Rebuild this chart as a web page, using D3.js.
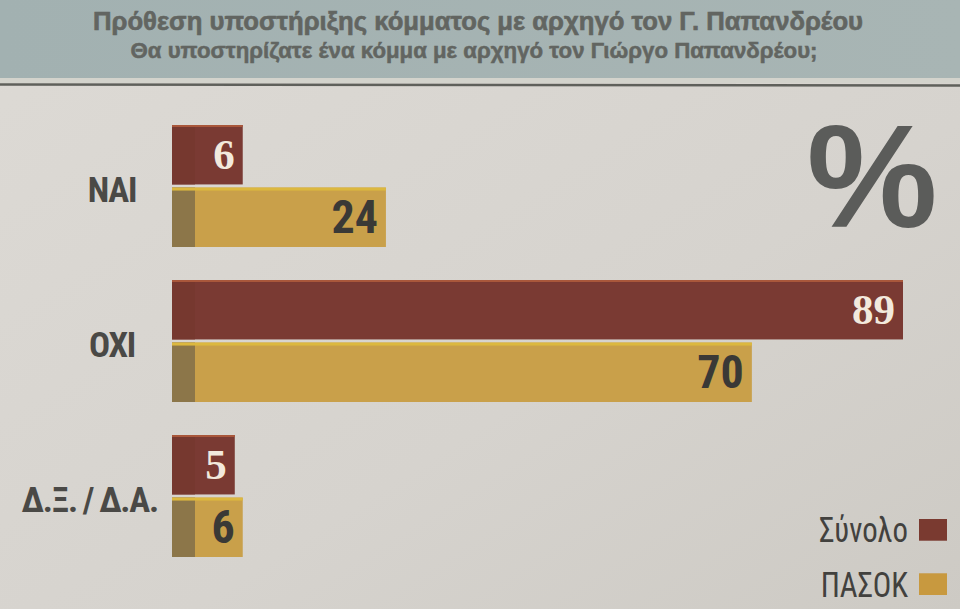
<!DOCTYPE html>
<html>
<head>
<meta charset="utf-8">
<script src="https://cdn.jsdelivr.net/npm/d3@7"></script>
<style>
  html, body { margin: 0; padding: 0; background: #d7d4cf; }
  svg { display: block; }
</style>
</head>
<body>
<svg id="chart" width="960" height="609"></svg>
<script>
// ---- data ----
const categories = ["ΝΑΙ", "ΟΧΙ", "Δ.Ξ. / Δ.Α."];
const series = ["Σύνολο", "ΠΑΣΟΚ"];
const totalValues = [6, 89, 5];
const pasokValues = [24, 70, 6];
const titleText = "Πρόθεση υποστήριξης κόμματος με αρχηγό τον Γ. Παπανδρέου";
const subtitleText = "Θα υποστηρίζατε ένα κόμμα με αρχηγό τον Γιώργο Παπανδρέου;";
const unitText = "%";

// ---- styles ----
const W = 960, H = 609;
const narrow = "'Liberation Sans Narrow', 'Arial Narrow', 'Roboto Condensed', sans-serif";
const sans = "'Liberation Sans', Arial, sans-serif";
const serif = "'Liberation Serif', 'DejaVu Serif', serif";
const colors = {
  "Σύνολο": { main: "#7a3a33", top: "#a9573b", side: "#76382f", text: "#f2e9dd", font: serif, size: 43 },
  "ΠΑΣΟΚ": { main: "#c9a04a", top: "#dcb83f", side: "#8c7649", text: "#3a3936", font: narrow, size: 46 }
};

const valuesBySeries = { "Σύνολο": totalValues, "ΠΑΣΟΚ": pasokValues };
const rows = categories.map((c, i) => ({
  cat: c,
  items: series.map(s => ({ series: s, value: valuesBySeries[s][i] }))
}));

const svg = d3.select("#chart");

// background with slight photographic shading
const defs = svg.append("defs");
const bg = defs.append("linearGradient").attr("id", "bg")
  .attr("x1", "0").attr("y1", "0").attr("x2", "1").attr("y2", "1");
bg.append("stop").attr("offset", "0").attr("stop-color", "#dddad5");
bg.append("stop").attr("offset", "0.6").attr("stop-color", "#d6d3ce");
bg.append("stop").attr("offset", "1").attr("stop-color", "#cdcac4");
svg.append("rect").attr("width", W).attr("height", H).attr("fill", "url(#bg)");

// title band
const band = defs.append("linearGradient").attr("id", "band")
  .attr("x1", "0").attr("y1", "0").attr("x2", "1").attr("y2", "0");
band.append("stop").attr("offset", "0").attr("stop-color", "#a2b1b1");
band.append("stop").attr("offset", "1").attr("stop-color", "#a8b5b4");
svg.append("rect").attr("x", 0).attr("y", 0).attr("width", W).attr("height", 78).attr("fill", "url(#band)");
svg.append("rect").attr("x", 0).attr("y", 78).attr("width", W).attr("height", 5).attr("fill", "#d3d3cc");
svg.append("line").attr("x1", 0).attr("x2", W).attr("y1", 84.5).attr("y2", 85.5)
  .attr("stroke", "#5f605b").attr("stroke-width", 2.5);

svg.append("text").attr("x", 478).attr("y", 30).attr("text-anchor", "middle")
  .attr("font-family", sans).attr("font-weight", "bold").attr("font-size", 25)
  .attr("textLength", 770).attr("lengthAdjust", "spacingAndGlyphs")
  .attr("stroke", "#626561").attr("stroke-width", 0.6)
  .attr("fill", "#626561").text(titleText);
svg.append("text").attr("x", 474).attr("y", 58).attr("text-anchor", "middle")
  .attr("font-family", sans).attr("font-weight", "bold").attr("font-size", 21.5)
  .attr("textLength", 687).attr("lengthAdjust", "spacingAndGlyphs")
  .attr("stroke", "#626561").attr("stroke-width", 0.5)
  .attr("fill", "#626561").text(subtitleText);

// percent sign
svg.append("text").attr("x", 872).attr("y", 227).attr("text-anchor", "middle")
  .attr("font-family", sans).attr("font-weight", "bold")
  .attr("font-size", 147).attr("fill", "#5b5c5a").text(unitText);

// ---- scales ----
const x = d3.scaleLinear().domain([0, 89]).range([195, 903]);
const side = 23;
const y0 = d3.scaleBand().domain(categories).range([125, 557]).paddingInner(0.213).paddingOuter(0);
const y1 = d3.scaleBand().domain(series).range([0, y0.bandwidth()]).paddingInner(0.05);

const groups = svg.selectAll("g.group").data(rows).join("g")
  .attr("class", "group")
  .attr("transform", d => `translate(0,${y0(d.cat)})`);

const bars = groups.selectAll("g.bar").data(d => d.items).join("g")
  .attr("class", "bar")
  .attr("transform", d => `translate(0,${y1(d.series)})`);

const h = y1.bandwidth();
bars.append("rect")
  .attr("x", x(0) - side)
  .attr("y", 0)
  .attr("width", d => x(d.value) - x(0) + side)
  .attr("height", h)
  .attr("fill", d => colors[d.series].main);

// darker left side (3D)
bars.append("rect")
  .attr("x", x(0) - side)
  .attr("y", 0)
  .attr("width", side)
  .attr("height", h)
  .attr("fill", d => colors[d.series].side);

// top highlight edge
bars.append("rect")
  .attr("x", x(0) - side)
  .attr("y", 0)
  .attr("width", d => x(d.value) - x(0) + side)
  .attr("height", d => d.series === "ΠΑΣΟΚ" ? 3 : 2)
  .attr("fill", d => colors[d.series].top);

// value labels
bars.append("text")
  .attr("x", d => x(d.value) - 8)
  .attr("y", h / 2)
  .attr("dy", "0.34em")
  .attr("text-anchor", "end")
  .attr("font-family", d => colors[d.series].font)
  .attr("font-weight", "bold")
  .attr("font-size", d => colors[d.series].size)
  .attr("fill", d => colors[d.series].text)
  .text(d => d.value);

// category labels
groups.append("text")
  .attr("class", "cat")
  .attr("y", y0.bandwidth() / 2 + 3)
  .attr("dy", "0.36em")
  .attr("font-family", narrow)
  .attr("font-weight", "bold")
  .attr("font-size", 35)
  .attr("letter-spacing", -1.2)
  .attr("word-spacing", -1)
  .attr("fill", "#4a4946")
  .text(d => d.cat)
  .each(function () {
    const len = this.getComputedTextLength();
    const centerX = 112, maxRight = 158;
    const left = Math.min(centerX - len / 2, maxRight - len);
    d3.select(this).attr("x", left);
  });

// legend
const legend = svg.append("g").attr("class", "legend");
const legendY = d3.scaleBand().domain(series).range([519, 595]).paddingInner(0.6);
const li = legend.selectAll("g").data(series).join("g")
  .attr("transform", s => `translate(0,${legendY(s)})`);
li.append("rect")
  .attr("x", 919).attr("y", 0)
  .attr("width", 28).attr("height", legendY.bandwidth())
  .attr("fill", s => s === "ΠΑΣΟΚ" ? "#c8993f" : "#7a3a30");
li.append("text")
  .attr("transform", `translate(908,${legendY.bandwidth() / 2}) scale(0.88,1)`)
  .attr("dy", "0.36em")
  .attr("text-anchor", "end")
  .attr("font-family", narrow)
  .attr("font-size", 35)
  .attr("fill", "#42413e")
  .text(s => s);
</script>
</body>
</html>
